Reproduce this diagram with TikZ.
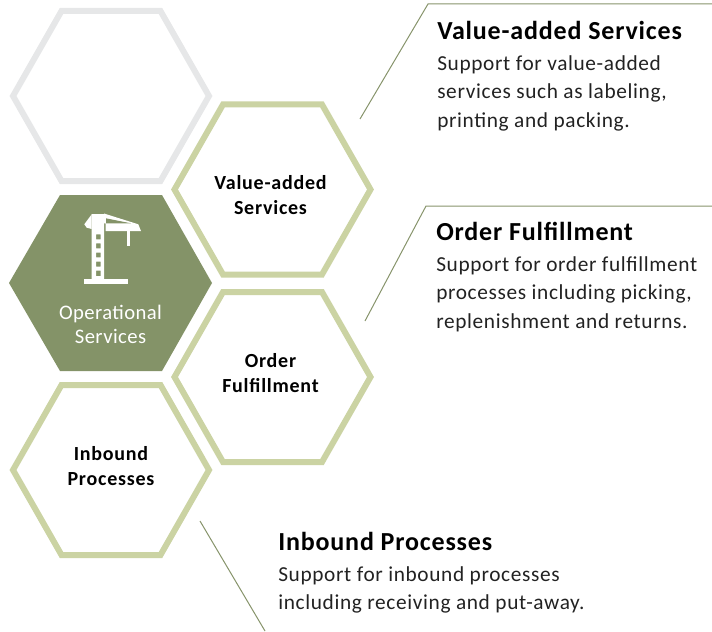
\documentclass[tikz,border=0pt]{standalone}
\usepackage{fontspec}
\setmainfont{Carlito}
\newfontfamily\bodyfam[LetterSpace=3.0]{Carlito}
\newfontfamily\headfam[LetterSpace=3.2,BoldFont={Carlito Bold}]{Carlito}
\newfontfamily\hexfam[LetterSpace=3.8,BoldFont={Carlito Bold}]{Carlito}
\newfontfamily\opfam[LetterSpace=2.0]{Carlito}
\definecolor{lightgreen}{HTML}{CBD3A3}
\definecolor{darkgreen}{HTML}{849368}
\definecolor{palegrey}{HTML}{E6E7E8}
\definecolor{linegreen}{HTML}{87946B}
\definecolor{inktext}{HTML}{222222}
\tikzset{
  hexline/.style={line width=4.5pt,line join=miter,fill=white},
  hextext/.style={font=\hexfam\fontsize{15pt}{18.5pt}\selectfont\bfseries,align=center,text=black},
  headtext/.style={font=\headfam\fontsize{19.5pt}{22pt}\selectfont\bfseries,anchor=base west,text=black,inner sep=0pt},
  bodytext/.style={font=\bodyfam\fontsize{16pt}{21.4pt}\selectfont,anchor=north west,align=left,text=inktext,inner sep=0pt},
  leader/.style={draw=linegreen,line width=0.75pt},
}
\newcommand{\hexshape}[2]{% centre x, centre y
  (#1-98,#2) -- (#1-49.5,#2-85) -- (#1+49.5,#2-85) -- (#1+98,#2) -- (#1+49.5,#2+85) -- (#1-49.5,#2+85) -- cycle}
\begin{document}
\begin{tikzpicture}[x=0.75pt,y=-0.75pt]
\useasboundingbox (0,0) rectangle (712,631);
\draw[hexline,draw=palegrey] \hexshape{111}{96};
\draw[hexline,draw=lightgreen] \hexshape{272.5}{189.5};
\draw[hexline,draw=lightgreen] \hexshape{272.5}{377};
\draw[hexline,draw=lightgreen] \hexshape{111}{470};
\fill[darkgreen] (9,283) -- (60,195) -- (162,195) -- (212,283) -- (162,371) -- (60,371) -- cycle;
% crane
\fill[white] (84,279) rectangle (128.3,284);
\fill[white,even odd rule] (91.7,214) rectangle (104,279)
  (96,234.3) rectangle (100.7,239.3)
  (96,243.3) rectangle (100.7,248.3)
  (96,252.7) rectangle (100.7,257.3)
  (96,261.7) rectangle (100.7,266.7)
  (96,270.7) rectangle (100.7,276);
\fill[white] (84.3,224.3) -- (91.7,214.3) -- (91.7,229) -- (86.7,227.7) -- cycle;
\fill[white] (104,213.5) -- (138.3,224.3) -- (141,231) -- (105.7,231) -- (105.7,223.3) -- (104,223.3) -- cycle;
\fill[darkgreen] (106,218.3) -- (131,223.3) -- (106,223.3) -- cycle;
\fill[white] (127.3,231) rectangle (129.7,246);
\node[font=\opfam\fontsize{15.5pt}{18pt}\selectfont,text=white,align=center] (op) at (110.5,324) {Operational\\Services};
\node[hextext] (va) at (270.5,195) {Value-added\\Services};
\node[hextext] (of) at (270.5,373) {Order\\Fulfillment};
\node[hextext] (ib) at (111,466) {Inbound\\Processes};
\node[headtext] (h1) at (437,40) {Value-added Services};
\node[bodytext] (b1) at (437,55) {Support for value-added\\services such as labeling,\\printing and packing.};
\node[headtext] (h2) at (436,240) {Order Fulfillment};
\node[bodytext] (b2) at (436,256) {Support for order fulfillment\\processes including picking,\\replenishment and returns.};
\node[headtext] (h3) at (278,550) {Inbound Processes};
\node[bodytext] (b3) at (278,566) {Support for inbound processes\\including receiving and put-away.};
\coordinate (a0) at (360,119); \coordinate (a1) at (428,4); \coordinate (a2) at (712,4);
\coordinate (c0) at (365,321); \coordinate (c1) at (426,206); \coordinate (c2) at (712,206);
\coordinate (e0) at (200,521); \coordinate (e1) at (265,631);
\draw[leader] (a0) -- (a1) -- (a2);
\draw[leader] (c0) -- (c1) -- (c2);
\draw[leader] (e0) -- (e1);
\end{tikzpicture}
\end{document}
